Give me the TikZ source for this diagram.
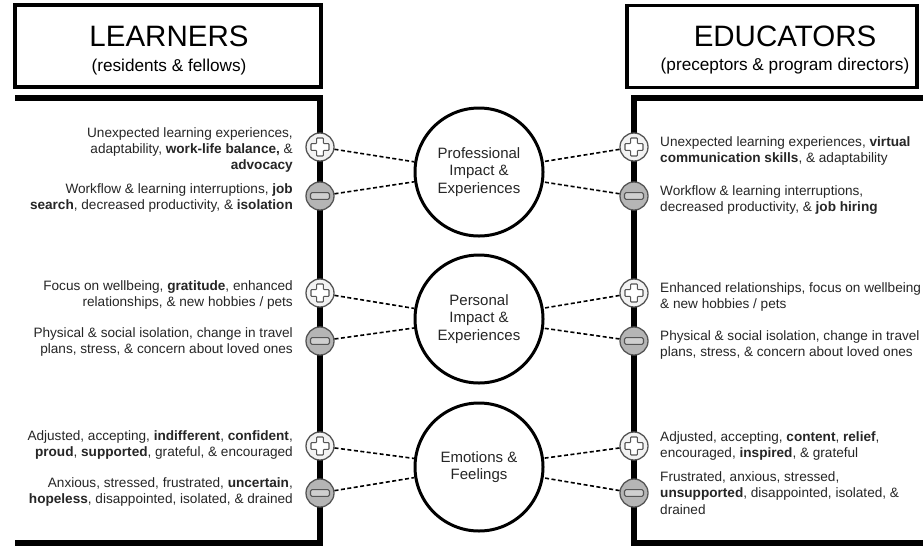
\documentclass[tikz,border=0pt]{standalone}
\usepackage{fontspec}
\setmainfont{Liberation Sans}
\usetikzlibrary{calc}
\definecolor{txt}{HTML}{262626}
\definecolor{icondk}{HTML}{555555}
\definecolor{plusfill}{HTML}{F2F2F2}
\definecolor{minusfill}{HTML}{B5B5B5}
\definecolor{minusbar}{HTML}{CFCFCF}
\begin{document}
\begin{tikzpicture}[x=1pt,y=-1pt,
  titlebox/.style={draw=black,line width=3.5pt,minimum width=306pt,minimum height=82pt,inner sep=0pt},
  titletext/.style={font=\fontsize{29.5}{32}\selectfont,text=black,inner sep=0pt},
  subtext/.style={font=\fontsize{17.2}{20}\selectfont,text=black,inner sep=0pt},
  bracket/.style={draw=black,line width=6pt},
  bigcirc/.style={circle,draw=black,line width=3pt,fill=white,minimum size=128pt,inner sep=0pt,align=center,text=txt,font=\fontsize{15}{17.5}\selectfont},
  plusicon/.style={circle,draw=icondk,line width=1.3pt,fill=plusfill,minimum size=28pt,inner sep=0pt,
    path picture={\draw[fill=white,draw=icondk,line width=1.1pt,rounded corners=0.8pt]
      ([shift={(-3.4pt,-9pt)}]path picture bounding box.center) -- ++(6.8pt,0pt) -- ++(0pt,5.6pt) -- ++(5.6pt,0pt) -- ++(0pt,6.8pt) -- ++(-5.6pt,0pt) -- ++(0pt,5.6pt) -- ++(-6.8pt,0pt) -- ++(0pt,-5.6pt) -- ++(-5.6pt,0pt) -- ++(0pt,-6.8pt) -- ++(5.6pt,0pt) -- cycle;}},
  minusicon/.style={circle,draw=icondk,line width=1.3pt,fill=minusfill,minimum size=28pt,inner sep=0pt,
    path picture={\draw[fill=minusbar,draw=icondk,line width=1.1pt,rounded corners=1.5pt]
      ([shift={(-9.5pt,-3.4pt)}]path picture bounding box.center) rectangle ([shift={(9.5pt,3.4pt)}]path picture bounding box.center);}},
  dashline/.style={draw=black,line width=1.6pt,dash pattern=on 4pt off 2.5pt},
  ltext/.style={anchor=east,align=right,inner sep=0pt,text=txt,font=\fontsize{13.6}{16.3}\selectfont},
  rtext/.style={anchor=west,align=left,inner sep=0pt,text=txt,font=\fontsize{13.6}{16.3}\selectfont}
]
\useasboundingbox (0,0) rectangle (923,547);
\fill[white] (0,0) rectangle (923,547);

% title boxes
\node[titlebox] (lbox) at (168,46) {};
\node[titletext] (ltitle) at (169,36) {LEARNERS};
\node[subtext] (lsub) at (169,67) {(residents \& fellows)};
\node[titlebox,minimum width=290pt] (rbox) at (772,46.5) {};
\node[titletext] (rtitle) at (785,36) {EDUCATORS};
\node[subtext] (rsub) at (785,66) {(preceptors \& program directors)};

% brackets
\draw[bracket] (15,98) -- (320,98) -- (320,543) -- (15,543);
\draw[bracket] (935,98) -- (634,98) -- (634,543) -- (935,543);

% central circles
\node[bigcirc] (c1) at (479,172) {Professional\\Impact \&\\Experiences};
\node[bigcirc] (c2) at (479,319) {Personal\\Impact \&\\Experiences};
\node[bigcirc] (c3) at (479,467) {Emotions \&\\Feelings};

% icons
\node[plusicon] (lp1) at (320,147) {};
\node[minusicon] (lm1) at (320,196) {};
\node[plusicon] (lp2) at (320,293) {};
\node[minusicon] (lm2) at (320,341) {};
\node[plusicon] (lp3) at (320,446) {};
\node[minusicon] (lm3) at (320,493) {};
\node[plusicon] (rp1) at (634,147) {};
\node[minusicon] (rm1) at (634,196) {};
\node[plusicon] (rp2) at (634,293) {};
\node[minusicon] (rm2) at (634,341) {};
\node[plusicon] (rp3) at (634,446) {};
\node[minusicon] (rm3) at (634,493) {};

% dashed connectors
\foreach \s in {lp,lm,rp,rm}{
  \foreach \i in {1,2,3}{
    \draw[dashline] (\s\i) -- (c\i);
  }
}

% left texts
\node[ltext] (lt1p) at (293,150) {Unexpected learning experiences,\\adaptability, \textbf{work-life balance,} \&\\\textbf{advocacy}};
\node[ltext] (lt1m) at (293,198) {Workflow \& learning interruptions, \textbf{job}\\\textbf{search}, decreased productivity, \& \textbf{isolation}};
\node[ltext] (lt2p) at (293,295) {Focus on wellbeing, \textbf{gratitude}, enhanced\\relationships, \& new hobbies / pets};
\node[ltext] (lt2m) at (293,342) {Physical \& social isolation, change in travel\\plans, stress, \& concern about loved ones};
\node[ltext] (lt3p) at (293,445) {Adjusted, accepting, \textbf{indifferent}, \textbf{confident},\\\textbf{proud}, \textbf{supported}, grateful, \& encouraged};
\node[ltext] (lt3m) at (293,492) {Anxious, stressed, frustrated, \textbf{uncertain},\\\textbf{hopeless}, disappointed, isolated, \& drained};

% right texts
\node[rtext] (rt1p) at (660,151) {Unexpected learning experiences, \textbf{virtual}\\\textbf{communication skills}, \& adaptability};
\node[rtext] (rt1m) at (660,200) {Workflow \& learning interruptions,\\decreased productivity, \& \textbf{job hiring}};
\node[rtext] (rt2p) at (660,297) {Enhanced relationships, focus on wellbeing\\\& new hobbies / pets};
\node[rtext] (rt2m) at (660,345) {Physical \& social isolation, change in travel\\plans, stress, \& concern about loved ones};
\node[rtext] (rt3p) at (660,446) {Adjusted, accepting, \textbf{content}, \textbf{relief},\\encouraged, \textbf{inspired}, \& grateful};
\node[rtext] (rt3m) at (660,493) {Frustrated, anxious, stressed,\\\textbf{unsupported}, disappointed, isolated, \&\\drained};
\end{tikzpicture}
\end{document}
